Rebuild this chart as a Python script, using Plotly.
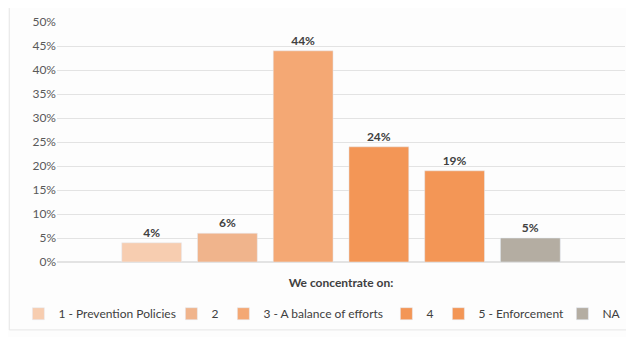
import plotly.graph_objects as go

category = ["We concentrate on:"]
series_names = ["1 - Prevention Policies", "2", "3 - A balance of efforts", "4", "5 - Enforcement", "NA"]
series_values = [0.04, 0.06, 0.44, 0.24, 0.19, 0.05]
series_colors = ["#F7CDB0", "#F0B48C", "#F4A874", "#F39656", "#F39656", "#B4ADA2"]
y_ticks = [0, 0.05, 0.10, 0.15, 0.20, 0.25, 0.30, 0.35, 0.40, 0.45, 0.50]

# legend entry widths (px), a bit tighter than the text so the row fits
legend_widths = [108, 7, 118, 7, 79, 17]

fig = go.Figure()
for name, val, col, lw in zip(series_names, series_values, series_colors, legend_widths):
    fig.add_trace(go.Bar(
        x=category, y=[val], name=name,
        marker=dict(color=col),
        texttemplate="<b>%{y:.0%}</b>", textposition="outside",
        textfont=dict(size=12, color="#404040", family="Lato"),
        cliponaxis=False, legendwidth=lw,
    ))

fig.update_layout(
    width=626, height=329,
    margin=dict(l=49, r=9, t=14, b=75, autoexpand=False),
    paper_bgcolor="#FDFDFD", plot_bgcolor="#FDFDFD",
    barmode="group", bargap=0.2, bargroupgap=0.21,
    font=dict(family="Lato", size=12, color="#595959"),
    showlegend=True,
    legend=dict(
        orientation="h", x=-0.068, xanchor="left", y=-0.155, yanchor="top",
        font=dict(size=12, color="#404040", family="Lato"), itemwidth=30,
        tracegroupgap=0, bgcolor="rgba(0,0,0,0)",
    ),
    yaxis=dict(
        range=[0, 0.5], tickvals=y_ticks, tickformat=".0%",
        gridcolor="#E3E3E3", zeroline=True, zerolinecolor="#E3E3E3",
        tickfont=dict(size=12, color="#595959"), ticklen=0,
    ),
    xaxis=dict(
        tickfont=dict(size=12, color="#404040", family="Lato"),
        ticklabelstandoff=12,
    ),
)
fig.update_xaxes(tickvals=category, ticktext=["<b>We concentrate on:</b>"])

# faint frame edges (left and bottom) as in the scanned chart
fig.add_shape(type="line", xref="paper", yref="paper",
              x0=-0.084, x1=-0.084, y0=-0.283, y1=1.058,
              line=dict(color="#E6E6E6", width=1), layer="below")
fig.add_shape(type="line", xref="paper", yref="paper",
              x0=-0.084, x1=1.014, y0=-0.283, y1=-0.283,
              line=dict(color="#E6E6E6", width=1), layer="below")

fig.write_html("out.html")
